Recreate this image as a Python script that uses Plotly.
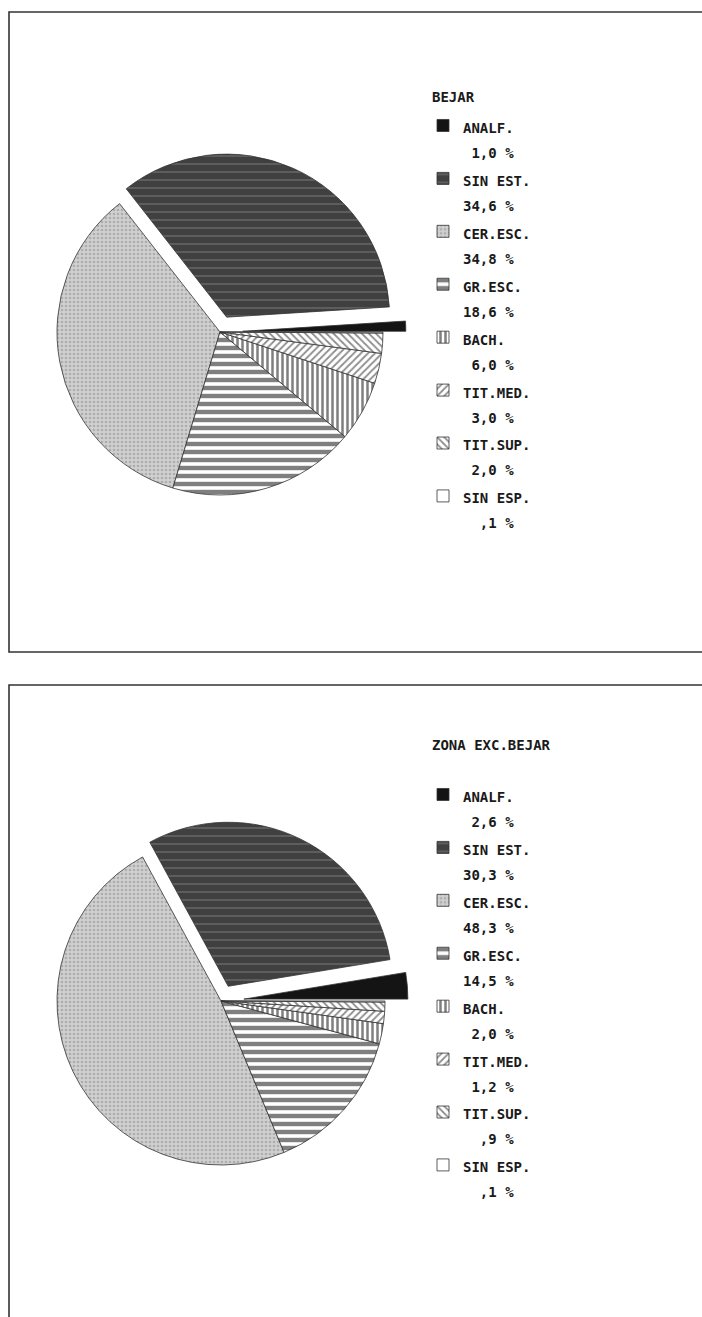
import plotly.graph_objects as go

# ---------------- data ----------------
categories = ["ANALF.", "SIN EST.", "CER.ESC.", "GR.ESC.", "BACH.", "TIT.MED.", "TIT.SUP.", "SIN ESP."]
bejar_values = [1.0, 34.6, 34.8, 18.6, 6.0, 3.0, 2.0, 0.1]
zona_values = [2.6, 30.3, 48.3, 14.5, 2.0, 1.2, 0.9, 0.1]
titles = ["BEJAR", "ZONA EXC.BEJAR"]

# ---------------- style ----------------
W, H = 702, 1317
pulls = [0.14, 0.10, 0, 0, 0, 0, 0, 0]
bg_colors = ["#141414", "#404040", "#d0d0d0", "#ffffff", "#ffffff", "#ffffff", "#ffffff", "#ffffff"]
fg_colors = ["#141414", "#8a8a8a", "#8a8a8a", "#000000", "#000000", "#1a1a1a", "#1a1a1a", "#ffffff"]
shapes_p = ["", "-", ".", "-", "|", "/", "\\", ""]
sizes_p = [8, 8, 4, 8, 5, 5, 5, 8]
solid_p = [0.3, 0.2, 0.35, 0.55, 0.5, 0.35, 0.35, 0.3]
NB = "\u00a0"
SPAN = '<span style="font-size:14px">'
FONT = "DejaVu Sans Mono"
TXT = "#1a1a1a"


def fmt(v):
    s = f"{v:.1f}".replace(".", ",")
    if s.startswith("0"):
        s = s[1:]
    return s.rjust(4).replace(" ", NB)


def make_labels(values, suffix):
    return [f"{SPAN}{c}</span><br>{SPAN}{fmt(v)}{NB}%{suffix}</span>"
            for c, v in zip(categories, values)]


def px_dom(cx, cy, r, maxpull):
    half = r * (1 + maxpull)
    return dict(x=[(cx - half) / W, (cx + half) / W],
                y=[1 - (cy + half) / H, 1 - (cy - half) / H])


fig = go.Figure()
for vals, legend_id, dom, suffix in [
    (bejar_values, "legend", px_dom(220, 332, 163, max(pulls)), ""),
    (zona_values, "legend2", px_dom(221, 1001, 164, max(pulls)), NB),
]:
    # plotly places the first slice clockwise of `rotation` when counterclockwise;
    # shift so the first slice starts at 3 o'clock and grows upward
    rot = 90 - 360.0 * vals[0] / sum(vals)
    fig.add_trace(go.Pie(
        labels=make_labels(vals, suffix),
        values=vals,
        sort=False,
        direction="counterclockwise",
        rotation=rot,
        pull=pulls,
        textinfo="none",
        hoverinfo="skip",
        domain=dom,
        legend=legend_id,
        marker=dict(
            colors=bg_colors,
            line=dict(color="#333333", width=0.8),
            pattern=dict(shape=shapes_p, fgcolor=fg_colors, bgcolor=bg_colors,
                         size=sizes_p, solidity=solid_p, fillmode="overlay"),
        ),
    ))

legend_common = dict(
    font=dict(family=FONT, size=19.2, color=TXT, weight="bold"),
    bgcolor="rgba(0,0,0,0)", borderwidth=0,
    xanchor="left", yanchor="top", valign="top", itemclick=False,
)

fig.update_layout(
    width=W, height=H,
    margin=dict(l=0, r=0, t=0, b=0),
    paper_bgcolor="white", plot_bgcolor="white",
    showlegend=True,
    legend=dict(x=423 / W, y=1 - 106.5 / H, **legend_common),
    legend2=dict(x=423 / W, y=1 - 775.5 / H, **legend_common),
    shapes=[
        dict(type="rect", xref="paper", yref="paper", x0=9 / W, x1=1.02,
             y0=1 - 652 / H, y1=1 - 12 / H, line=dict(color="#333333", width=1.6)),
        dict(type="rect", xref="paper", yref="paper", x0=9 / W, x1=1.02,
             y0=-0.02, y1=1 - 685 / H, line=dict(color="#333333", width=1.6)),
    ],
    annotations=[
        dict(text=titles[0], x=430 / W, y=1 - 97 / H, xref="paper", yref="paper",
             xanchor="left", yanchor="middle", showarrow=False,
             font=dict(family=FONT, size=14, color=TXT, weight="bold")),
        dict(text=titles[1], x=430 / W, y=1 - 745 / H, xref="paper", yref="paper",
             xanchor="left", yanchor="middle", showarrow=False,
             font=dict(family=FONT, size=14, color=TXT, weight="bold")),
    ],
)

fig.write_html(
    "out.html",
    config={"displayModeBar": False},
    post_script="document.body.style.margin='0px';document.body.style.overflow='hidden';",
)
